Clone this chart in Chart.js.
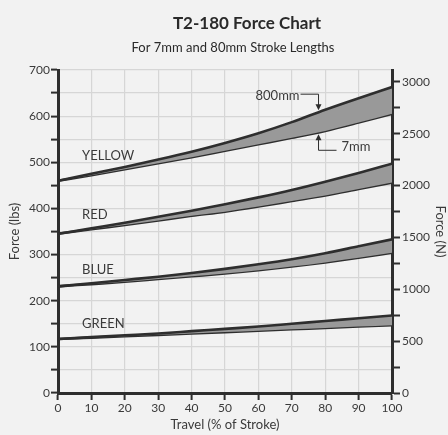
<!DOCTYPE html>
<html>
<head>
<meta charset="utf-8">
<script src="https://cdn.jsdelivr.net/npm/chart.js@4/dist/chart.umd.min.js"></script>
<style>
  html, body { margin: 0; padding: 0; background: #f2f2f2; }
  canvas { display: block; }
</style>
</head>
<body>
<canvas id="c" width="448" height="435"></canvas>
<script>
// ---- data ----
const travel = [0, 10, 20, 30, 40, 50, 60, 70, 80, 90, 100];
const yellow800 = [460, 475, 490, 506, 523, 542, 563, 587, 614, 639, 663];
const yellow7   = [460, 472, 485, 498, 511, 525, 539, 553, 568, 586, 605];
const red800    = [345, 357, 369, 382, 395, 409, 424, 440, 458, 477, 497];
const red7      = [345, 355, 364, 374, 384, 393, 404, 416, 428, 442, 456];
const blue800   = [231, 238, 245, 252, 260, 269, 279, 290, 303, 318, 333];
const blue7     = [231, 236, 241, 247, 253, 259, 266, 274, 283, 293, 304];
const green800  = [117, 121, 125, 129, 134, 139, 144, 150, 156, 162, 168];
const green7    = [117, 120, 123, 126, 129, 132, 135, 138, 141, 144, 147];

const bandNames = ['YELLOW', 'RED', 'BLUE', 'GREEN'];
const bandLabelLbs = [515, 387, 266, 150];
const bandLabelTravel = 7.2;

const xTickLabels = [0, 10, 20, 30, 40, 50, 60, 70, 80, 90, 100];
const lbsTickLabels = [0, 100, 200, 300, 400, 500, 600, 700];
const newtonTickLabels = [0, 500, 1000, 1500, 2000, 2500, 3000];
const LBS_TO_N = 4.44822;
const annotTravel = 78;

const DARK = '#2e2e2e';
const GRID = '#d6d6d6';
const BAND = '#999999';
const FONT = 'Lato, "Open Sans", sans-serif';

function ds(data, fill) {
  return {
    data: travel.map((t, i) => ({ x: t, y: data[i] })),
    borderColor: DARK,
    borderWidth: 2.6,
    pointRadius: 0,
    cubicInterpolationMode: 'monotone',
    fill: fill,
    backgroundColor: BAND,
    yAxisID: 'y'
  };
}

function interp(arr, t) {
  for (let i = 0; i < travel.length - 1; i++) {
    if (t >= travel[i] && t <= travel[i + 1]) {
      const f = (t - travel[i]) / (travel[i + 1] - travel[i]);
      return arr[i] + f * (arr[i + 1] - arr[i]);
    }
  }
  return arr[arr.length - 1];
}

const decor = {
  id: 'decor',
  afterDatasetsDraw(chart) {
    const ctx = chart.ctx;
    const xs = chart.scales.x, ys = chart.scales.y;
    const ca = chart.chartArea;
    const cx = (ca.left + ca.right) / 2;
    ctx.save();
    // titles
    ctx.fillStyle = '#2a2a2a';
    ctx.textAlign = 'center';
    ctx.textBaseline = 'middle';
    ctx.font = 'bold 17px ' + FONT;
    ctx.fillText('T2-180 Force Chart', cx + 22, 24);
    ctx.font = '13px ' + FONT;
    ctx.fillText('For 7mm and 80mm Stroke Lengths', cx + 8, 48);

    // band labels
    ctx.fillStyle = '#3a3a3a';
    ctx.textAlign = 'left';
    ctx.font = '13px ' + FONT;
    bandNames.forEach((n, i) => {
      ctx.fillText(n, xs.getPixelForValue(bandLabelTravel), ys.getPixelForValue(bandLabelLbs[i]));
    });

    // annotations
    const ax = xs.getPixelForValue(annotTravel);
    const topTip = ys.getPixelForValue(interp(yellow800, annotTravel)) - 2;
    const botTip = ys.getPixelForValue(interp(yellow7, annotTravel)) + 2;
    ctx.strokeStyle = DARK;
    ctx.fillStyle = DARK;
    ctx.lineWidth = 1;
    // 800mm
    const ly1 = topTip - 16;
    ctx.beginPath();
    ctx.moveTo(ax - 18, ly1); ctx.lineTo(ax, ly1); ctx.lineTo(ax, topTip - 5);
    ctx.stroke();
    ctx.beginPath();
    ctx.moveTo(ax - 3, topTip - 6); ctx.lineTo(ax + 3, topTip - 6); ctx.lineTo(ax, topTip);
    ctx.closePath(); ctx.fill();
    ctx.font = '13px ' + FONT;
    ctx.textAlign = 'right';
    ctx.fillStyle = '#3a3a3a';
    ctx.fillText('800mm', ax - 19, ly1 + 2);
    // 7mm
    ctx.fillStyle = DARK;
    const ly2 = botTip + 16;
    ctx.beginPath();
    ctx.moveTo(ax, botTip + 5); ctx.lineTo(ax, ly2); ctx.lineTo(ax + 18, ly2);
    ctx.stroke();
    ctx.beginPath();
    ctx.moveTo(ax - 3, botTip + 6); ctx.lineTo(ax + 3, botTip + 6); ctx.lineTo(ax, botTip);
    ctx.closePath(); ctx.fill();
    ctx.textAlign = 'left';
    ctx.fillStyle = '#3a3a3a';
    ctx.fillText('7mm', ax + 23, ly2 - 3);
    ctx.restore();
  }
};

const bgPlugin = {
  id: 'bg',
  beforeDraw(chart) {
    const ctx = chart.ctx;
    ctx.save();
    ctx.fillStyle = '#f2f2f2';
    ctx.fillRect(0, 0, chart.width, chart.height);
    ctx.restore();
  }
};

new Chart(document.getElementById('c'), {
  type: 'line',
  data: {
    datasets: [
      ds(yellow800, '+1'), ds(yellow7, false),
      ds(red800, '+1'), ds(red7, false),
      ds(blue800, '+1'), ds(blue7, false),
      ds(green800, '+1'), ds(green7, false)
    ]
  },
  options: {
    responsive: false,
    devicePixelRatio: 1,
    animation: false,
    layout: { padding: { top: 70, left: 0, right: 0, bottom: 0 } },
    plugins: { legend: { display: false }, tooltip: { enabled: false } },
    scales: {
      x: {
        type: 'linear', min: 0, max: 100,
        afterFit: s => { s.height = 42; },
        ticks: {
          stepSize: 10, color: '#3a3a3a', padding: 1,
          font: { family: FONT, size: 12 },
          callback: v => xTickLabels.includes(v) ? String(v) : ''
        },
        grid: { color: GRID, lineWidth: 1.2, tickColor: DARK, tickLength: 7, tickWidth: 2 },
        border: { color: DARK, width: 3 },
        title: { display: true, text: 'Travel (% of Stroke)', color: '#3a3a3a',
                 font: { family: FONT, size: 13 }, padding: { top: 2, bottom: 2 } }
      },
      y: {
        type: 'linear', position: 'left', min: 0, max: 700,
        afterFit: s => { s.width = 58; },
        ticks: {
          stepSize: 50, color: '#3a3a3a', padding: 1,
          font: { family: FONT, size: 12 },
          callback: v => lbsTickLabels.includes(v) ? String(v) : ''
        },
        grid: { color: GRID, lineWidth: 1.2, tickColor: DARK, tickLength: 7, tickWidth: 2 },
        border: { color: DARK, width: 3 },
        title: { display: true, text: 'Force (lbs)', color: '#3a3a3a',
                 font: { family: FONT, size: 13 }, padding: { top: 7, bottom: 0 } }
      },
      y2: {
        type: 'linear', position: 'right', min: 0, max: 700 * LBS_TO_N,
        afterFit: s => { s.width = 56; },
        ticks: {
          stepSize: 250, includeBounds: false, color: '#3a3a3a', padding: 2,
          font: { family: FONT, size: 12 },
          callback: v => newtonTickLabels.includes(v) ? String(v) : ''
        },
        grid: { drawOnChartArea: false, tickColor: DARK, tickLength: 8, tickWidth: 2 },
        border: { color: DARK, width: 3 },
        title: { display: true, text: 'Force (N)', color: '#3a3a3a',
                 font: { family: FONT, size: 13 }, padding: { top: 0, bottom: 3 } }
      }
    }
  },
  plugins: [bgPlugin, decor]
});
</script>
</body>
</html>
